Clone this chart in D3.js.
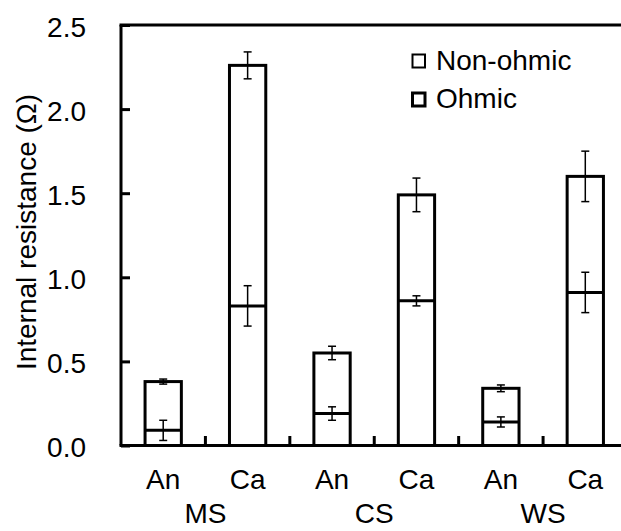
<!DOCTYPE html>
<html><head><meta charset="utf-8">
<script src="https://cdn.jsdelivr.net/npm/d3@7"></script>
<style>body{margin:0;background:#fff}svg{display:block}text{font-family:"Liberation Sans",Arial,sans-serif;fill:#000}</style>
</head><body>
<script>
const groups = ["MS","CS","WS"];
const electrodes = ["An","Ca","An","Ca","An","Ca"];
const categories = ["MS-An","MS-Ca","CS-An","CS-Ca","WS-An","WS-Ca"];
const ohmic = [0.09,0.83,0.19,0.86,0.14,0.91];
const ohmicErr = [0.06,0.12,0.04,0.03,0.03,0.12];
const total = [0.38,2.26,0.55,1.49,0.34,1.60];
const totalErr = [0.015,0.08,0.04,0.10,0.02,0.15];
const yTicks = [0,0.5,1.0,1.5,2.0,2.5];
const seriesNames = ["Non-ohmic","Ohmic"];

const W=621,H=531;
const svg=d3.select("body").append("svg").attr("width",W).attr("height",H);
const x=d3.scaleBand().domain(categories).range([121,627.5]).padding(0);
const y=d3.scaleLinear().domain([0,2.5]).range([445.5,25]);
const bw=x.bandwidth()*0.43;

// bars
const g=svg.append("g");
categories.forEach((c,i)=>{
  const cx=x(c)+x.bandwidth()/2;
  g.append("rect").attr("x",cx-bw/2).attr("y",y(total[i])).attr("width",bw).attr("height",y(0)-y(total[i]))
    .attr("fill","#fff").attr("stroke","#000").attr("stroke-width",3);
  g.append("line").attr("x1",cx-bw/2).attr("x2",cx+bw/2).attr("y1",y(ohmic[i])).attr("y2",y(ohmic[i]))
    .attr("stroke","#000").attr("stroke-width",3);
  [[ohmic[i],ohmicErr[i]],[total[i],totalErr[i]]].forEach(([v,e])=>{
    const eg=g.append("g").attr("stroke","#000").attr("stroke-width",1.5);
    eg.append("line").attr("x1",cx).attr("x2",cx).attr("y1",y(v-e)).attr("y2",y(v+e));
    eg.append("line").attr("x1",cx-4).attr("x2",cx+4).attr("y1",y(v-e)).attr("y2",y(v-e));
    eg.append("line").attr("x1",cx-4).attr("x2",cx+4).attr("y1",y(v+e)).attr("y2",y(v+e));
  });
});

// axes
const yAxis=d3.axisRight(y).tickValues(yTicks).tickSize(9).tickFormat(d3.format(".1f"));
const ya=svg.append("g").attr("transform","translate(121,0)").call(yAxis);
ya.select(".domain").remove();
ya.selectAll(".tick line").attr("stroke-width",3);
ya.selectAll(".tick text").attr("x",-35).attr("text-anchor","end").attr("font-size",28).attr("dy","0.4em");
svg.append("line").attr("x1",121).attr("x2",121).attr("y1",25).attr("y2",445.5).attr("stroke","#000").attr("stroke-width",3);
svg.append("line").attr("x1",119.5).attr("x2",627).attr("y1",25).attr("y2",25).attr("stroke","#000").attr("stroke-width",3);
svg.append("line").attr("x1",119.5).attr("x2",627).attr("y1",445.5).attr("y2",445.5).attr("stroke","#000").attr("stroke-width",3);
// category separators
categories.slice(1).forEach(c=>{
  svg.append("line").attr("x1",x(c)).attr("x2",x(c)).attr("y1",445.5).attr("y2",436).attr("stroke","#000").attr("stroke-width",3);
});
// category labels
categories.forEach((c,i)=>{
  svg.append("text").attr("x",x(c)+x.bandwidth()/2).attr("y",489).attr("text-anchor","middle").attr("font-size",28).text(electrodes[i]);
});
groups.forEach((gname,j)=>{
  const cx=x(categories[2*j+1]);
  svg.append("text").attr("x",cx).attr("y",523).attr("text-anchor","middle").attr("font-size",28).text(gname);
});
// y title
svg.append("text").attr("transform","translate(36,232) rotate(-90)").attr("text-anchor","middle").attr("font-size",28).text("Internal resistance (Ω)");

// legend
seriesNames.forEach((s,i)=>{
  const ly=[69.5,108][i];
  svg.append("rect").attr("x",412.5).attr("y",ly-15).attr("width",12.5).attr("height",13).attr("fill","#fff").attr("stroke","#000").attr("stroke-width",i?3:2);
  svg.append("text").attr("x",436).attr("y",ly).attr("font-size",28).text(s);
});
</script>
</body></html>
